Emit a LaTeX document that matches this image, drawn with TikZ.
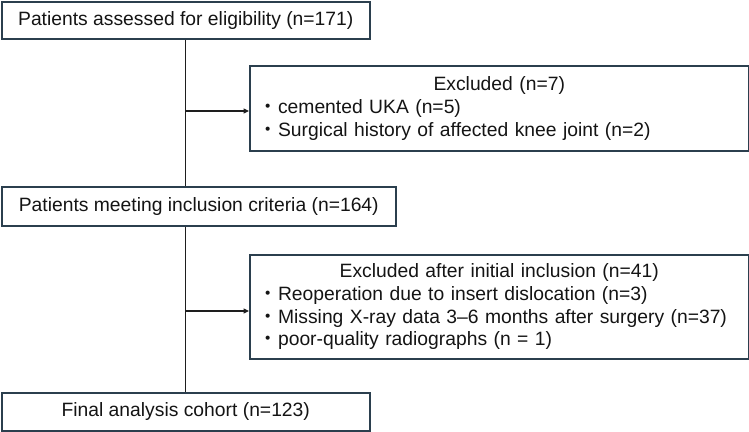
\documentclass[tikz,border=0pt]{standalone}
\usepackage{fontspec}
\setmainfont{Liberation Sans}
\newfontfamily\cjk{Noto Sans CJK JP}
\usetikzlibrary{positioning,arrows.meta,calc}
\definecolor{cBox}{HTML}{2B3F4E}
\definecolor{cEdge}{HTML}{1E1E1E}
\tikzset{
  base/.style   ={draw=cBox, line width=1.5bp, inner xsep=9bp, inner ysep=0pt,
                  anchor=north west, font=\fontsize{19.3bp}{22.8bp}\selectfont,
                  text=black!92},
  stage/.style  ={base, align=center},
  excl/.style   ={base, align=left, text width=481bp, minimum width=499bp},
  trunk/.style  ={line width=1.1bp, draw=cEdge},
  flow/.style   ={-{Triangle[length=5.5bp,width=5bp]}, line width=1.1bp, draw=cEdge},
}
\newcommand{\itm}{{\cjk ・}}

\begin{document}
\begin{tikzpicture}[x=1bp, y=1bp]
  \useasboundingbox (0,0) rectangle (749,-431);

  % ---- main stages (left column) ----
  \node[stage, minimum width=368bp, minimum height=37bp] (assess) at (1,-1)
    {Patients assessed for eligibility (n=171)};
  \node[stage, minimum width=394bp, minimum height=39bp] (incl) at (1,-186)
    {Patients meeting inclusion criteria (n=164)};
  \node[stage, minimum width=368bp, minimum height=38bp] (final) at (1,-392)
    {Final analysis cohort (n=123)};

  % ---- exclusion boxes (right column) ----
  \node[excl, minimum height=85bp] (excl1) at (249,-65)
    {\parindent0pt\centering Excluded (n=7)\par\raggedright
     \itm cemented UKA (n=5)\\
     \itm Surgical history of affected knee joint (n=2)};
  \node[excl, minimum height=104bp] (excl2) at (249,-254)
    {\parindent0pt\centering Excluded after initial inclusion (n=41)\par\raggedright
     \itm Reoperation due to insert dislocation (n=3)\\
     \itm Missing X-ray data 3--6 months after surgery (n=37)\\
     \itm poor-quality radiographs (n = 1)};

  % ---- trunk ----
  \draw[trunk] (assess.south) -- (assess.south |- incl.north);
  \draw[trunk] (assess.south |- incl.south) -- (final.north);

  % ---- side exits ----
  \coordinate (j1) at (185,-111);
  \coordinate (j2) at (185,-311);
  \draw[flow] (j1) -- (j1 -| excl1.west);
  \draw[flow] (j2) -- (j2 -| excl2.west);

\end{tikzpicture}
\end{document}
